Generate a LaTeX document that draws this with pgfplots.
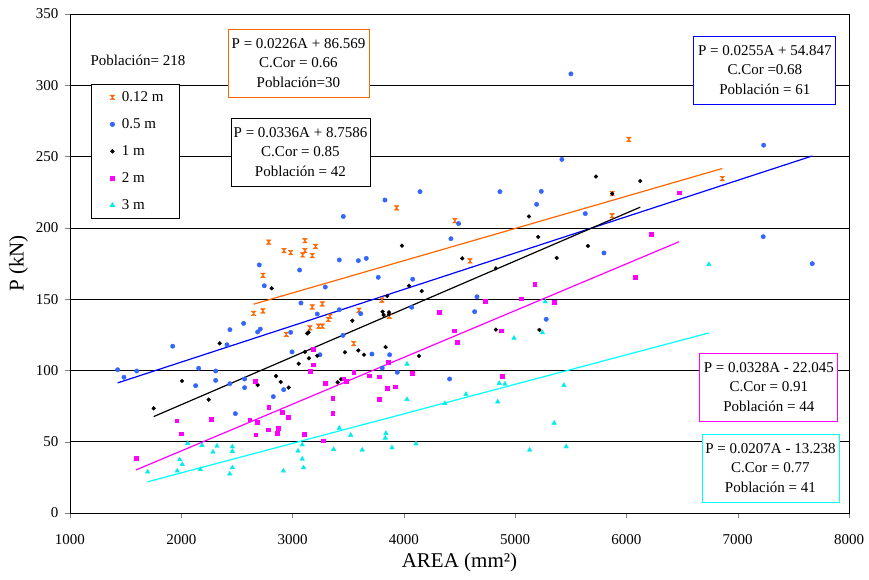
\documentclass[border=0pt]{standalone}
\usepackage{fontspec}
\setmainfont{Liberation Serif}
\usepackage{pgfplots}
\pgfplotsset{compat=1.18}
\definecolor{corange}{RGB}{255,102,0}
\definecolor{cblue}{RGB}{51,102,255}
\definecolor{lblue}{RGB}{0,0,255}
\definecolor{cmag}{RGB}{255,0,255}
\definecolor{ccyan}{RGB}{0,235,235}
\definecolor{lcyan}{RGB}{0,255,255}
\pgfdeclareplotmark{hourglass}{%
  \pgfpathmoveto{\pgfqpoint{-\pgfplotmarksize}{\pgfplotmarksize}}%
  \pgfpathlineto{\pgfqpoint{\pgfplotmarksize}{\pgfplotmarksize}}%
  \pgfpathlineto{\pgfqpoint{-\pgfplotmarksize}{-\pgfplotmarksize}}%
  \pgfpathlineto{\pgfqpoint{\pgfplotmarksize}{-\pgfplotmarksize}}%
  \pgfpathclose\pgfusepathqfillstroke}
\newcommand\tf{\fontsize{15}{19.5}\selectfont}
\begin{document}
\begin{tikzpicture}
\begin{axis}[
  scale only axis, width=779pt, height=499pt,
  xmin=1000, xmax=8000, ymin=0, ymax=350,
  xtick={1000,2000,...,8000}, ytick={0,50,...,350},
  tick pos=left, tick align=outside, major tick length=5pt,
  ymajorgrids, grid style={black, line width=0.6pt},
  axis line style={line width=0.9pt},
  /pgf/number format/assume math mode=true,
  /pgf/number format/1000 sep={},
  scaled ticks=false,
  ticklabel style={font=\fontsize{15}{17}\selectfont},
  xticklabel style={yshift=-13pt},
  yticklabel style={xshift=-3pt},
  xlabel={AREA (mm²)}, ylabel={P (kN)},
  label style={font=\fontsize{21}{24}\selectfont},
  xlabel style={at={(axis description cs:0.5,-0.100)}, anchor=center},
  ylabel style={at={(axis description cs:-0.066,0.5)}, anchor=center},
  legend cell align=left,
  legend image code/.code={\path (0cm,0cm) (0.5cm,0cm);\draw[mark repeat=2,mark phase=2,#1] plot coordinates {(0cm,0cm) (0.25cm,0cm) (0.5cm,0cm)};},
  legend style={at={(0.0266,0.859)}, anchor=north west, draw=black, fill=white,
    font=\fontsize{15}{17}\selectfont, inner xsep=14pt, inner ysep=5pt, row sep=11.5pt, line width=0.6pt},
]
% 0.12 m
\addplot[only marks, mark=hourglass, mark size=2.3pt, mark options={draw=corange, fill=corange, line width=0.4pt}] coordinates {
(2785,190) (2923,184) (2983,182.6) (3111,191) (3111,184) (3090,181) (3207,187) (3177,180.5)
(2734,166.7) (3177,144.5) (3267,146.6) (3597,142.2) (2650,140) (2734,141.7) (3336,138) (3321,135.8)
(3156,129.8) (3234,131) (3267,131) (2944,125.3) (3549,118.8) (3935,214) (4459,205) (4594,176.8)
(3803,149.4) (3870,138) (6022,262) (5872,224) (6861,234.5) (5872,208.5)};
\addlegendentry{0.12 m\hspace{5pt}}
% 0.5 m
\addplot[only marks, mark=*, mark size=2.2pt, mark options={draw=cblue, fill=cblue}] coordinates {
(3456,208) (3420,177.5) (3591,177) (2701,174) (3063,170.4) (2746,159.4) (3294,158.5) (3075,147.3)
(3420,142.6) (3222,139.6) (2560,133) (2437,128.6) (2710,129) (2686,127) (2983,126.7) (3453,124.6)
(1923,117) (2411,118) (2995,113) (3246,111) (1428,100.5) (1485,95.2) (1599,99.6) (2156,101.5)
(2309,99.6) (2129,89.3) (2309,93) (2437,90.7) (2569,94) (2569,87.9) (2486,69.7) (2920,86.5)
(2827,81.6) (5420,248) (4145,225.4) (4863,225.4) (5235,225.6) (5193,216.5) (3830,219.5) (5630,210)
(4492,203) (4423,192.4) (3662,178.6) (3770,165.3) (4079,164) (4657,151.7) (4636,141.2) (5279,135.9)
(3612,139.8) (4070,144.3) (3713,111.5) (3872,111) (3806,101.7) (3941,98.7) (4411,94) (5501,308)
(7233,258) (7229,193.8) (5798,182.4) (7670,174.9)};
\addlegendentry{0.5 m}
% 1 m
\addplot[only marks, mark=*, mark size=1.9pt, mark options={draw=black, fill=black}] coordinates {
(2812,157.6) (3132,126) (3144,126.7) (3537,134.9) (2345,119) (3111,113) (3147,108.5) (3222,110.3)
(3471,112.7) (3591,114) (2006,92.6) (2246,79.5) (1752,73.4) (3055,104.7) (2851,96) (2893,91.9)
(2965,88) (2686,89.8) (3405,91.7) (3435,93.8) (5726,236) (5124,208) (3983,187.5) (5207,193.6)
(5654,187.3) (5373,178.9) (4525,178.6) (4827,171.6) (4046,159.4) (4160,155.7) (3851,152.2) (3809,141.2)
(3866,140.8) (3818,138.9) (3866,139.4) (4827,128.6) (5218,128.4) (3642,111) (3836,116.4) (4136,110.1)
(6124,232.9) (5872,224)};
\addlegendentry{1 m}
% 2 m
\addplot[only marks, mark=square*, mark size=1.9pt, mark options={draw=cmag, fill=cmag}] coordinates {
(3186,115) (3186,104) (3156,99.6) (2665,92.4) (3294,91) (3459,94.2) (3480,92.4) (3549,99)
(3360,80.4) (3360,69.9) (2785,74.3) (2908,70.6) (2962,67.3) (2614,65.4) (2680,63.8) (2267,65.7)
(1959,64.7) (1997,55.6) (2668,54.9) (2782,58.4) (2872,59.6) (2863,55.9) (3102,55.2) (3273,50.7)
(1593,38.4) (5175,160.6) (4731,148.7) (5055,150.3) (5348,147.8) (4320,140.8) (4449,127.9) (4476,120)
(4875,127.9) (3859,106) (3686,96.3) (3776,95.6) (4075,98) (3848,87.7) (3923,88.6) (3776,79.7)
(4884,95.9) (6472,224.7) (6220,195.7) (6079,165.5)};
\addlegendentry{2 m}
% 3 m
\addplot[only marks, mark=triangle*, mark size=2.6pt, mark options={draw=ccyan, fill=ccyan}] coordinates {
(2057,48.9) (2186,47.5) (2321,47) (2459,46.5) (2459,43.3) (2285,42.8) (1985,37.4) (2009,34.1)
(1964,29.5) (1698,28.8) (2171,30.6) (2459,31.8) (2435,27.4) (2917,29.5) (3049,43.5) (3087,47.9)
(3087,37.9) (3099,31.8) (3369,44.7) (3420,59.6) (3522,54.7) (5270,148.2) (5245,126.5) (4990,122.7)
(4857,91) (4908,90.5) (4843,78) (4558,83.3) (4369,76.9) (4028,104.5) (4028,79.7) (5438,89.6)
(5351,63.1) (3839,55.9) (3833,52.6) (3626,44.2) (3893,45.8) (4109,48.6) (5130,44.2) (5459,46.5)
(6741,174.4)};
\addlegendentry{3 m}
% trend lines
\addplot[corange, line width=1.2pt, forget plot] coordinates {(2650,146.46) (6861,241.63)};
\addplot[lblue, line width=1.2pt, forget plot] coordinates {(1428,91.26) (7670,250.43)};
\addplot[black, line width=1.2pt, forget plot] coordinates {(1752,67.63) (6124,214.52)};
\addplot[cmag, line width=1.2pt, forget plot] coordinates {(1593,30.20) (6472,190.24)};
\addplot[lcyan, line width=1.2pt, forget plot] coordinates {(1698,21.91) (6741,126.30)};
% annotations
\node[font=\tf] at (axis cs:1611,317.7) {Población= 218};
\node[draw=corange, fill=white, line width=0.8pt, minimum width=141pt, minimum height=68pt, inner sep=1pt, align=center, font=\tf] at (axis cs:3053,315.6) {P = 0.0226A + 86.569\\C.Cor = 0.66\\Población=30};
\node[draw=black, fill=white, line width=0.8pt, minimum width=139pt, minimum height=68pt, inner sep=1pt, align=center, font=\tf] at (axis cs:3071,253.2) {P = 0.0336A + 8.7586\\C.Cor = 0.85\\Población = 42};
\node[draw=lblue, fill=white, line width=0.8pt, minimum width=142pt, minimum height=68pt, inner sep=1pt, align=center, font=\tf] at (axis cs:7244,310.7) {P = 0.0255A + 54.847\\C.Cor =0.68\\Población = 61};
\node[draw=cmag, fill=white, line width=0.8pt, minimum width=138pt, minimum height=68pt, inner sep=1pt, align=center, font=\tf] at (axis cs:7280,88.4) {P = 0.0328A - 22.045\\C.Cor = 0.91\\Población = 44};
\node[draw=lcyan, fill=white, line width=0.8pt, minimum width=137pt, minimum height=68pt, inner sep=1pt, align=center, font=\tf] at (axis cs:7294,31.6) {P = 0.0207A - 13.238\\C.Cor = 0.77\\Población = 41};
\end{axis}
\pgfresetboundingbox
\path (-70pt,-66pt) rectangle (799pt,513pt);
\end{tikzpicture}
\end{document}
